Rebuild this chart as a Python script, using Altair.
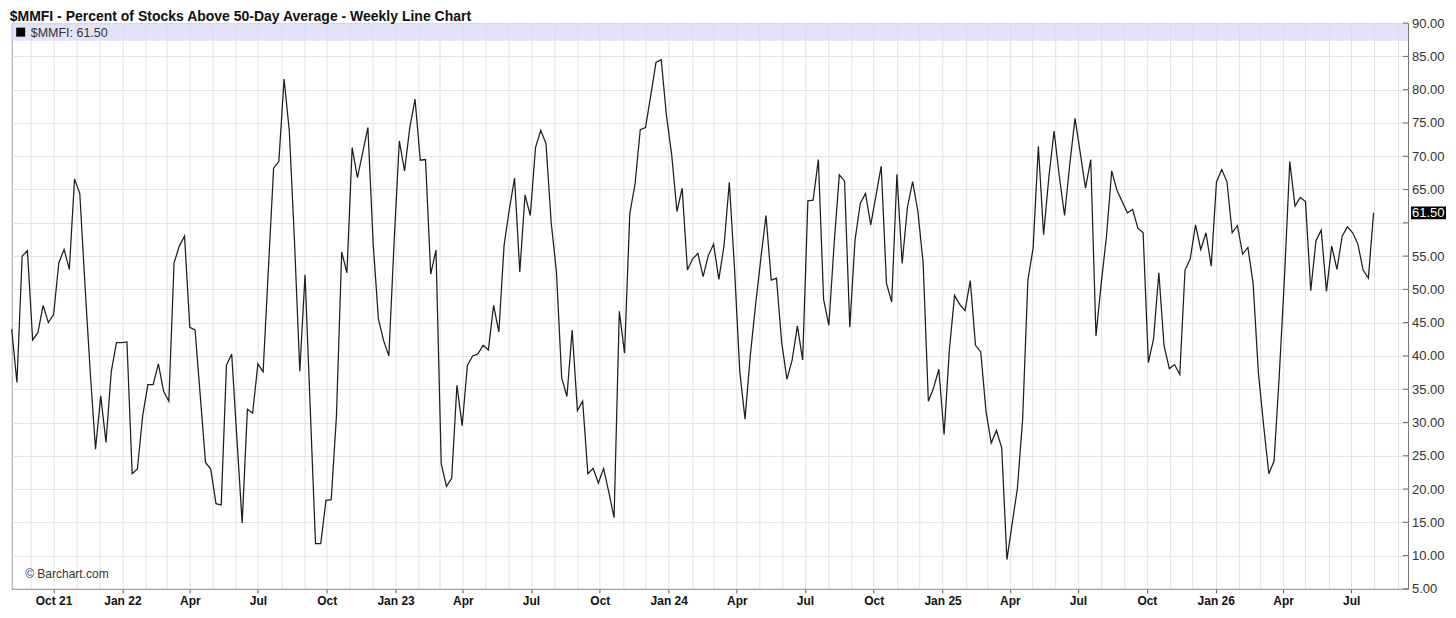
import altair as alt
import pandas as pd

# Weekly readings of $MMFI (percent of stocks above 50-day average), first week 2021-08-06
values = [
    44, 36, 55, 55.8, 42.4, 43.5, 47.6, 45, 46.2, 54,
    56, 53, 66.6, 64.4, 50.5, 37.5, 26, 34, 27, 37.6,
    42, 42, 42.1, 22.3, 23, 31, 35.7, 35.7, 38.8, 34.7,
    33.2, 54, 56.5, 58, 44.3, 43.9, 34, 24, 23, 17.8,
    17.6, 38.6, 40.3, 27.5, 14.9, 32, 31.4, 38.8, 37.6, 53,
    68.2, 69.2, 81.6, 73.8, 57, 37.7, 52.2, 32, 11.8, 11.8,
    18.3, 18.4, 31, 55.6, 52.5, 71.3, 66.8, 70.5, 74.3, 57,
    45.6, 42.3, 40, 57, 72.3, 67.8, 74.3, 78.6, 69.4, 69.5,
    52.3, 55.9, 23.8, 20.4, 21.6, 35.6, 29.5, 38.6, 40, 40.3,
    41.6, 40.9, 47.6, 43.6, 56.6, 62, 66.7, 52.6, 64.2, 61.1,
    71.3, 73.9, 71.9, 60, 52.6, 36.7, 33.9, 43.9, 31.8, 33.2,
    22.3, 23.1, 20.9, 23.1, 19.5, 15.7, 46.7, 40.4, 61.4, 65.8,
    74, 74.3, 79.1, 84.1, 84.5, 76.1, 70.2, 61.7, 65.2, 52.9,
    54.6, 55.4, 51.9, 55.1, 56.8, 51.5, 56.6, 66.1, 53, 37.6,
    30.5, 40, 47.6, 54.5, 61.1, 51.4, 51.7, 42, 36.5, 39.4,
    44.5, 39.4, 63.3, 63.4, 69.5, 48.5, 44.6, 56.7, 67.2, 66.3,
    44.3, 57.4, 62.9, 64.4, 59.7, 64.1, 68.5, 50.9, 48.1, 67.3,
    53.9, 62.3, 66.2, 61.7, 54, 33.2, 35.2, 38, 28.2, 40.8,
    49.1, 47.7, 46.8, 51.3, 41.6, 40.6, 31.7, 26.9, 28.8, 26.2,
    9.4, 14.8, 20.1, 30.5, 51.4, 56.2, 71.5, 58.2, 66.8, 73.8,
    67, 61.1, 68.8, 75.7, 70.5, 65.2, 69.5, 43, 50.9, 57.9,
    67.8, 64.9, 63.2, 61.5, 62, 59.2, 58.5, 39, 42.6, 52.5,
    41.5, 38.1, 38.7, 37.2, 52.9, 54.6, 59.7, 56, 58.5, 53.5,
    66.1, 68, 66.2, 58.5, 59.6, 55.3, 56.3, 50.9, 37.5, 29.6,
    22.3, 24.2, 37.2, 52, 69.2, 62.5, 63.8, 63.2, 49.8, 57.3,
    58.9, 49.7, 56.5, 53, 58, 59.4, 58.5, 56.8, 52.9, 51.7,
    61.5,
]
dates = pd.date_range("2021-08-06", periods=len(values), freq="7D").strftime("%Y-%m-%d").tolist()
y_ticks = [5, 10, 15, 20, 25, 30, 35, 40, 45, 50, 55, 60, 65, 70, 75, 80, 85, 90]

title_text = "$MMFI - Percent of Stocks Above 50-Day Average - Weekly Line Chart"
symbol = "$MMFI"
last = values[-1]

W, H = 1397, 566
FONT = "Liberation Sans"

df = pd.DataFrame({"date": dates, "pct": values})
df_last = pd.DataFrame({"pct": [last], "label": [f"{last:.2f}"]})
df_ticks = pd.DataFrame({"t": y_ticks})
one = pd.DataFrame({"a": [0]})

x_scale = alt.Scale(
    type="utc",
    domain=[alt.DateTime(year=2021, month=8, date=6, utc=True),
            alt.DateTime(year=2026, month=9, date=15, utc=True)],
)
y_scale = alt.Scale(domain=[5, 90], nice=False, zero=False)

x_label_expr = (
    "utcmonth(datum.value) % 3 != 0 ? '' : "
    "((utcmonth(datum.value) == 0 || utcyear(datum.value) == 2021) ? "
    "utcFormat(datum.value, '%b %y') : utcFormat(datum.value, '%b'))"
)
y_label_expr = f"abs(datum.value - {last}) < 3 ? '' : format(datum.value, '.2f')"

x_axis = alt.Axis(
    title=None,
    tickCount={"interval": "month", "step": 1},
    grid=True, gridColor="#e3e3e3", gridWidth=1,
    domainColor="#999999",
    tickColor="#555555", tickSize=4,
    tickOpacity={"condition": {"test": "utcmonth(datum.value) % 3 == 0", "value": 1}, "value": 0},
    labelExpr=x_label_expr,
    labelFont=FONT, labelFontSize=12, labelFontWeight="bold", labelColor="#111111",
    labelPadding=3, labelOverlap=False, labelFlush=False, labelBound=False,
)
y_axis = alt.Axis(
    orient="right", title=None, values=y_ticks, format=".2f",
    labelExpr=y_label_expr,
    grid=True, gridColor="#e3e3e3", gridWidth=1,
    domainColor="#777777", ticks=False,
    labelFont=FONT, labelFontSize=13, labelColor="#333333", labelPadding=3.5,
    labelOverlap=False, labelFlush=False, labelBound=False,
)

band = alt.Chart(one).mark_rect(color="#d6d6f6", opacity=0.7).encode(
    x=alt.value(0), x2=alt.value(W), y=alt.value(0), y2=alt.value(17.5)
)

line = alt.Chart(df).mark_line(color="#1e1e1e", strokeWidth=1.25).encode(
    x=alt.X("date:T", scale=x_scale, axis=x_axis),
    y=alt.Y("pct:Q", scale=y_scale, axis=y_axis),
)

ticks = alt.Chart(df_ticks).mark_rule(color="#666666", strokeWidth=1).encode(
    y=alt.Y("t:Q", scale=y_scale, axis=y_axis),
    x=alt.value(W - 5), x2=alt.value(W),
)

legend_sq = alt.Chart(one).mark_rect(color="black").encode(
    x=alt.value(4.5), x2=alt.value(13.5), y=alt.value(4.5), y2=alt.value(13.5)
)
legend_txt = alt.Chart(one).mark_text(
    align="left", baseline="middle", font=FONT, fontSize=12.5, color="#333333"
).encode(x=alt.value(19), y=alt.value(9.5), text=alt.value(f"{symbol}: {last:.2f}"))

copyright_txt = alt.Chart(one).mark_text(
    align="left", baseline="middle", font=FONT, fontSize=12, color="#333333"
).encode(x=alt.value(13.5), y=alt.value(551), text=alt.value("© Barchart.com"))

title_txt = alt.Chart(one).mark_text(
    align="left", baseline="alphabetic", font=FONT, fontSize=14, fontWeight="bold", color="#111111"
).encode(x=alt.value(-2), y=alt.value(-2), text=alt.value(title_text))

last_box = alt.Chart(df_last).transform_calculate(
    lo="datum.pct - 0.95", hi="datum.pct + 0.95"
).mark_rect(color="black").encode(
    y=alt.Y("lo:Q", scale=y_scale, axis=y_axis), y2="hi:Q",
    x=alt.value(W + 3), x2=alt.value(W + 38),
)
last_txt = alt.Chart(df_last).mark_text(
    align="left", baseline="middle", font=FONT, fontSize=13, color="white"
).encode(
    y=alt.Y("pct:Q", scale=y_scale, axis=y_axis),
    x=alt.value(W + 4), text="label:N",
)

chart = alt.layer(
    band, line, ticks, legend_sq, legend_txt, copyright_txt, title_txt, last_box, last_txt
).properties(
    width=W, height=H,
    autosize=alt.AutoSizeParams(type="none"),
    padding={"left": 3.7, "top": 15, "right": 40, "bottom": 19},
    background="white",
).configure_view(stroke="#a0a0a0", strokeWidth=1)

chart.save("out.html", embed_options={"renderer": "svg", "actions": False})
